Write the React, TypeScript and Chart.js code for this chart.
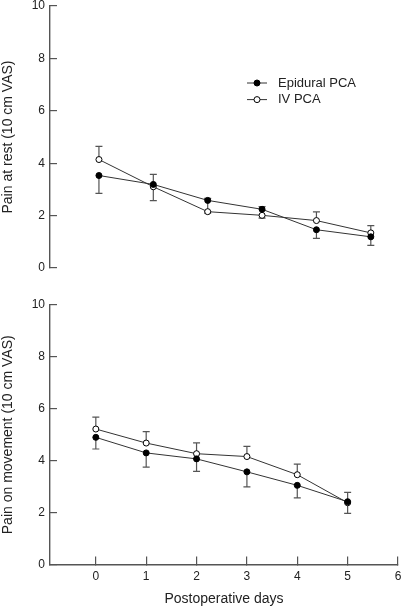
import React, { useEffect, useRef } from "react";
import { Chart, registerables } from "chart.js";
Chart.register(...registerables);

// ---- data ----
const days = [0, 1, 2, 3, 4, 5];
const seriesNames = ["Epidural PCA", "IV PCA"];
const yTicks = [0, 2, 4, 6, 8, 10];
const xTicks = [0, 1, 2, 3, 4, 5, 6];

const restEpidural = [3.53, 3.19, 2.58, 2.24, 1.46, 1.19];
const restEpiduralErrUp = [0, 0, 0.08, 0.1, 0, 0];
const restEpiduralErrDown = [0.68, 0.62, 0.43, 0, 0.33, 0.33];
const restIV = [4.14, 3.1, 2.15, 2.01, 1.81, 1.34];
const restIVErrUp = [0.5, 0.47, 0, 0, 0.33, 0.28];
const restIVErrDown = [0, 0, 0.06, 0.11, 0, 0];

const moveEpidural = [4.9, 4.3, 4.07, 3.57, 3.05, 2.42];
const moveEpiduralErrUp = [0, 0, 0, 0, 0, 0];
const moveEpiduralErrDown = [0.45, 0.55, 0.48, 0.58, 0.48, 0.45];
const moveIV = [5.22, 4.68, 4.27, 4.16, 3.46, 2.38];
const moveIVErrUp = [0.46, 0.44, 0.42, 0.39, 0.41, 0.4];
const moveIVErrDown = [0, 0, 0, 0, 0, 0];

const FONT = "'Liberation Sans', Arial, Helvetica, sans-serif";
const AXIS = "#555";
const TEXT = "#222";

const errorBarPlugin = {
  id: "errorBars",
  beforeDatasetsDraw(chart: any) {
    const { ctx } = chart;
    const x = chart.scales.x;
    const y = chart.scales.y;
    ctx.save();
    ctx.strokeStyle = "#555";
    ctx.lineWidth = 1.2;
    chart.data.datasets.forEach((ds: any) => {
      ds.data.forEach((p: any, i: number) => {
        const px = x.getPixelForValue(p.x);
        const py = y.getPixelForValue(p.y);
        const segs: number[] = [];
        if (ds.errUp && ds.errUp[i] > 0) segs.push(p.y + ds.errUp[i]);
        if (ds.errDown && ds.errDown[i] > 0) segs.push(p.y - ds.errDown[i]);
        segs.forEach((v) => {
          const ey = y.getPixelForValue(v);
          ctx.beginPath();
          ctx.moveTo(px, py);
          ctx.lineTo(px, ey);
          ctx.moveTo(px - 3.5, ey);
          ctx.lineTo(px + 3.5, ey);
          ctx.stroke();
        });
      });
    });
    ctx.restore();
  },
};

const legendPlugin = {
  id: "inlineLegend",
  afterDraw(chart: any, _args: any, opts: any) {
    if (!opts || !opts.show) return;
    const { ctx } = chart;
    ctx.save();
    chart.data.datasets.forEach((ds: any, i: number) => {
      const yy = opts.y + i * opts.spacing;
      ctx.strokeStyle = "#333";
      ctx.lineWidth = 1;
      ctx.beginPath();
      ctx.moveTo(opts.x, yy);
      ctx.lineTo(opts.x + 20, yy);
      ctx.stroke();
      ctx.beginPath();
      ctx.arc(opts.x + 10, yy, 3, 0, Math.PI * 2);
      ctx.fillStyle = ds.pointBackgroundColor;
      ctx.fill();
      ctx.strokeStyle = "#000";
      ctx.stroke();
      ctx.fillStyle = TEXT;
      ctx.font = `13px ${FONT}`;
      ctx.textBaseline = "middle";
      ctx.textAlign = "left";
      ctx.fillText(ds.label, opts.x + 31, yy);
    });
    ctx.restore();
  },
};

function makeDataset(label: string, vals: number[], up: number[], down: number[], filled: boolean) {
  return {
    label,
    data: days.map((d, i) => ({ x: d, y: vals[i] })),
    errUp: up,
    errDown: down,
    borderColor: "#333",
    borderWidth: 1,
    pointRadius: 3,
    pointBorderWidth: 1,
    pointBorderColor: "#000",
    pointBackgroundColor: filled ? "#000" : "#fff",
    showLine: true,
    tension: 0,
  };
}

function makeConfig(kind: "rest" | "move"): any {
  const isTop = kind === "rest";
  const datasets = isTop
    ? [
        makeDataset(seriesNames[0], restEpidural, restEpiduralErrUp, restEpiduralErrDown, true),
        makeDataset(seriesNames[1], restIV, restIVErrUp, restIVErrDown, false),
      ]
    : [
        makeDataset(seriesNames[0], moveEpidural, moveEpiduralErrUp, moveEpiduralErrDown, true),
        makeDataset(seriesNames[1], moveIV, moveIVErrUp, moveIVErrDown, false),
      ];
  return {
    type: "scatter",
    data: { datasets },
    options: {
      responsive: false,
      animation: false,
      events: [],
      layout: {
        padding: isTop
          ? { left: 0, right: 3, top: 6, bottom: 22 }
          : { left: 0, right: 3, top: 15, bottom: 0 },
      },
      plugins: {
        legend: { display: false },
        tooltip: { enabled: false },
        inlineLegend: isTop ? { show: true, x: 247, y: 83, spacing: 16.6 } : { show: false },
      },
      scales: {
        x: {
          type: "linear",
          min: isTop ? -0.9 : -0.91,
          max: isTop ? 5.5 : 6,
          display: !isTop,
          afterBuildTicks: (s: any) => {
            s.ticks = xTicks.map((v) => ({ value: v }));
          },
          afterFit: (s: any) => {
            s.height = isTop ? 0 : 43.5;
            s.paddingLeft = 0;
            s.paddingRight = 0;
          },
          grid: {
            drawOnChartArea: false,
            drawTicks: true,
            tickLength: -8,
            color: AXIS,
            lineWidth: 1.2,
          },
          border: { display: true, color: AXIS, width: 1.4 },
          ticks: {
            padding: 13,
            color: TEXT,
            font: { family: FONT, size: 12 },
            maxRotation: 0,
          },
          title: {
            display: true,
            text: "Postoperative days",
            color: TEXT,
            font: { family: FONT, size: 14 },
            padding: { top: 0, bottom: 0 },
          },
        },
        y: {
          type: "linear",
          min: 0,
          max: 10,
          afterBuildTicks: (s: any) => {
            s.ticks = yTicks.map((v) => ({ value: v }));
          },
          afterFit: (s: any) => {
            s.width = 50;
            s.paddingTop = 0;
            s.paddingBottom = 0;
          },
          grid: {
            drawOnChartArea: false,
            drawTicks: true,
            tickLength: -7,
            color: AXIS,
            lineWidth: 1.2,
          },
          border: { display: true, color: AXIS, width: 1.4 },
          ticks: {
            padding: 12,
            color: TEXT,
            font: { family: FONT, size: 12 },
          },
          title: {
            display: true,
            text: isTop ? "Pain at rest (10 cm VAS)" : "Pain on movement (10 cm VAS)",
            color: TEXT,
            font: { family: FONT, size: 14 },
            padding: { top: 0, bottom: 0 },
          },
        },
      },
    },
    plugins: [errorBarPlugin, legendPlugin],
  };
}

function Panel({ kind, top, height }: { kind: "rest" | "move"; top: number; height: number }) {
  const ref = useRef<HTMLCanvasElement | null>(null);
  useEffect(() => {
    if (!ref.current) return;
    const chart = new Chart(ref.current, makeConfig(kind));
    return () => chart.destroy();
  }, [kind]);
  return (
    <canvas
      ref={ref}
      width={403}
      height={height}
      style={{ position: "absolute", left: 0, top, width: 403, height, display: "block" }}
    />
  );
}

export default function App() {
  return (
    <div style={{ position: "absolute", left: 0, top: 0, width: 403, height: 608, background: "#fff" }}>
      <Panel kind="rest" top={0} height={290} />
      <Panel kind="move" top={290} height={318} />
    </div>
  );
}
